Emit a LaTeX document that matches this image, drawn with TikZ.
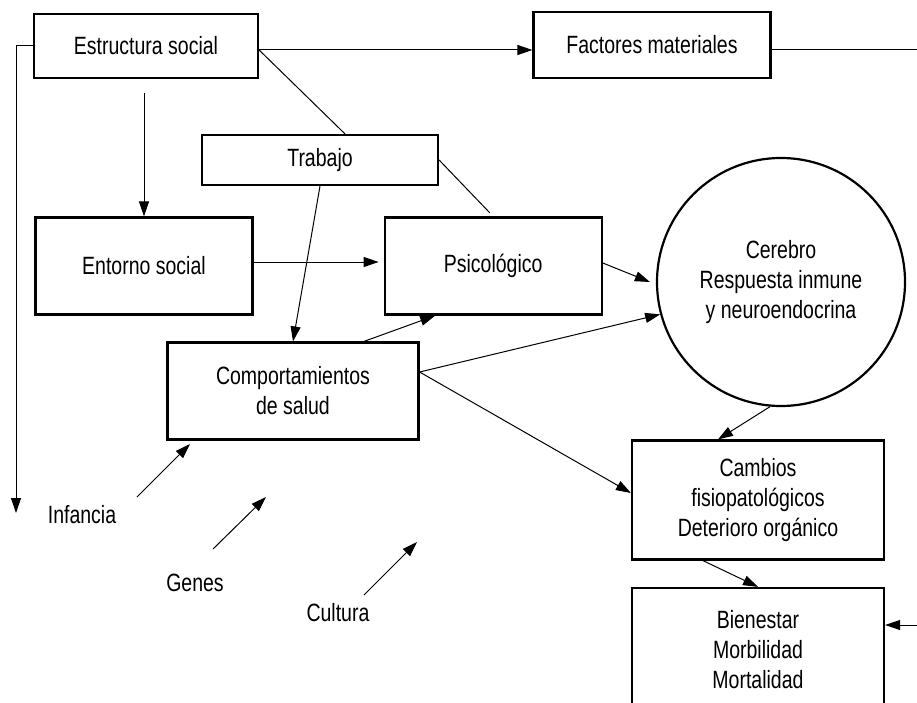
\documentclass[tikz,border=0pt]{standalone}
\usepackage{fontspec}
\setmainfont{Liberation Sans}[FakeStretch=0.78]
\usetikzlibrary{calc,
arrows.meta,
positioning}

\begin{document}
\begin{tikzpicture} [x=1pt, y=-1pt,
    ->,
    >={Triangle[length=15pt, width=10pt]},
    line width=1pt,
    font=\fontsize{25}{30}\selectfont,
    main node/.style={rectangle, fill = white, draw, line width=2.2pt,
        inner sep=0pt, align=center}
  ]

  \clip [-] (0,0) rectangle (917,703);

  \node [main node,
    minimum width = 224pt,
    minimum height = 64pt
  ] (estsoc) at (146, 46) {Estructura social};

  \node [main node,
    minimum width = 237pt,
    minimum height = 66pt
  ] (factmat) at (652, 45) {Factores materiales};

  \node [main node,
    minimum width = 236pt,
    minimum height = 50pt
  ] (trabajo) at (320, 160) {Trabajo};

  \node [main node,
    minimum width = 217pt,
    minimum height = 97pt
  ] (entorno) at (144, 266) {Entorno social};

  \node [main node,
    minimum width = 217pt,
    minimum height = 97pt,
    right = 130pt of entorno
  ] (psico) {Psicológico};

  \node [main node,
    minimum width = 251pt,
    minimum height = 97pt
  ] (comport) at (293, 391) {Comportamientos\\de salud};

  \node [circle,
    draw,
    line width = 2.2pt,
    inner sep = 0pt,
    minimum size = 248pt,
    align = center
  ] (cerebro) at (781, 282) {Cerebro\\Respuesta inmune\\y neuroendocrina};

  \node [main node,
    minimum width = 252pt,
    minimum height = 119pt
  ] (cambios) at (758, 500) {Cambios\\fisiopatológicos\\Deterioro orgánico};

  \node [main node,
    minimum width = 252pt,
    minimum height = 124pt
  ] (bienestar) at (758, 650) {Bienestar\\Morbilidad\\Mortalidad};

  \node (infancia) at (82, 515) {Infancia};
  \node (genes) at (195, 583) {Genes};
  \node (cultura) at (338, 613) {Cultura};

  %%%%%%%%%%%%%%%%%%%%%%%%%%%%%%

  \coordinate (leftend) at (16, 513);
  \coordinate (rightturn) at (940, 50);
  \coordinate (infstart) at (137, 497);
  \coordinate (infend) at (190, 444);
  \coordinate (genstart) at (213, 549);
  \coordinate (genend) at (266, 497);
  \coordinate (cultstart) at (364, 595);
  \coordinate (cultend) at (417, 542);

  \draw ([yshift=-4pt]estsoc.east) -> ([yshift=-5pt]factmat.west);
  \draw (estsoc.west) -| (leftend);
  \draw ([yshift=-5pt]factmat.east) -- (rightturn) |- ([yshift=25pt]bienestar.east);
  \draw [shorten <=14pt] (entorno.north |- estsoc.south) -> (entorno.north);
  \draw [-] ([yshift=-4pt]estsoc.east) -- ($(trabajo.north)+(25, 0)$);
  \draw [-, shorten >=5pt] (trabajo.east) -- (psico.north);
  \draw (trabajo.south) -> (comport.north);
  \draw [shorten >=5pt] ([yshift=4pt]entorno.east) -> ([yshift=4pt]psico.west);
  \draw ($(comport.north)+(71, 0)$) -> ($(psico.south)+(-58, 0)$);
  \draw ([yshift=3pt]psico.east) -> ([xshift=-6pt]cerebro.west);
  \draw ([yshift=19pt]comport.east) -> (cerebro.195);
  \draw ([yshift=19pt]comport.east) -> ([yshift=7pt]cambios.west);
  \draw (cerebro.265) -> ([xshift=-40pt]cambios.north);
  \draw ([xshift=-55pt]cambios.south) -> (bienestar.north);
  \draw (infstart) -> (infend);
  \draw (genstart) -> (genend);
  \draw (cultstart) -> (cultend);

\end{tikzpicture}
\end{document}
